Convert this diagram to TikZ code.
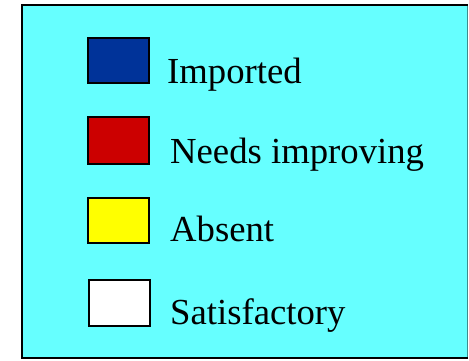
\documentclass[tikz,border=0pt]{standalone}
\usepackage{fontspec}
\setmainfont{Liberation Serif}
\definecolor{bgcyan}{RGB}{102,255,255}
\definecolor{edgeteal}{RGB}{60,140,140}
\definecolor{impblue}{RGB}{0,51,153}
\definecolor{needred}{RGB}{204,0,0}
\definecolor{absyellow}{RGB}{255,255,0}
\begin{document}
\begin{tikzpicture}[x=1pt,y=1pt,
  swatch/.style={draw=black,line width=2.5pt},
  lbl/.style={anchor=base west,inner sep=0pt,font=\fontsize{36.7}{40}\selectfont}]
\useasboundingbox (0,0) rectangle (469,360);
\fill[bgcyan] (22,2) rectangle (467.5,355);
\draw[edgeteal,line width=1pt] (467.5,355) -- (467.5,2);
\draw[black,line width=2.5pt] (467.5,355) -- (22,355) -- (22,2) -- (467.5,2);
\draw[swatch,fill=impblue] (88,277) rectangle (149,322);
\draw[swatch,fill=needred] (88,196) rectangle (149,243);
\draw[swatch,fill=absyellow] (88,117) rectangle (149,162);
\draw[swatch,fill=white] (89,34) rectangle (150,80);
\node[lbl] (imp) at (167,277) {Imported};
\node[lbl] (need) at (170,197) {Needs improving};
\node[lbl] (abs) at (170,119) {Absent};
\node[lbl] (sat) at (170,36) {Satisfactory};
\end{tikzpicture}
\end{document}
